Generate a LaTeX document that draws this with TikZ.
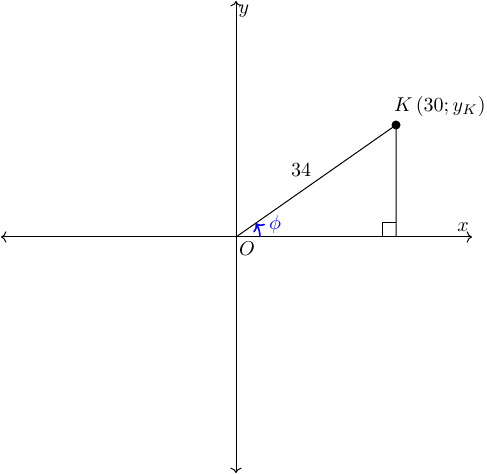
\documentclass[tikz,border=0pt]{standalone}
\usetikzlibrary{arrows.meta}
\begin{document}
\begin{tikzpicture}[x=0.5pt,y=-0.5pt,
  axis/.style={<->, line width=0.5pt},
  seg/.style={line width=0.5pt},
  lbl/.style={inner sep=1pt}]
\useasboundingbox (0,0) rectangle (487,474);
\coordinate (O) at (236,237);
\coordinate (L) at (1,237);
\coordinate (R) at (472,237);
\coordinate (T) at (236,1);
\coordinate (B) at (236,473);
\coordinate (K) at (396,125);
\coordinate (F) at (396,237);
\draw[axis] (L) -- (R);
\draw[axis] (B) -- (T);
\draw[seg] (O) -- (K) -- (F);
\draw[seg] (382,237) -- (382,223) -- (396,223);
\fill (K) circle (4.5);
\draw[blue, line width=0.8pt, ->] (260,237) arc[start angle=0, end angle=-35, radius=24];
\node[lbl] (xl) at (463,227) {$x$};
\node[lbl] (yl) at (244,11) {$y$};
\node[lbl] (ol) at (247,249) {$O$};
\node[lbl] (sl) at (301,170) {$34$};
\node[lbl, text=blue] (pl) at (275,225) {$\phi$};
\node[lbl, anchor=east] (kl) at (488,107) {$K\,(30;y_K)$};
\end{tikzpicture}
\end{document}
